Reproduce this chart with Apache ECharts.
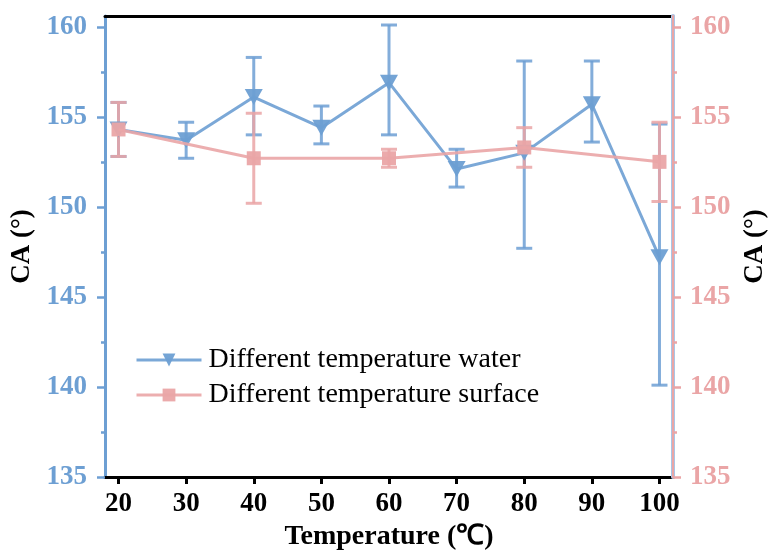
<!DOCTYPE html>
<html>
<head>
<meta charset="utf-8">
<script src="https://cdn.jsdelivr.net/npm/echarts@6/dist/echarts.min.js"></script>
<style>
  html, body { margin: 0; padding: 0; background: #fff; }
  #chart { width: 769px; height: 552px; }
</style>
</head>
<body>
<div id="chart"></div>
<script>
// data
const temps = [20, 30, 40, 50, 60, 70, 80, 90, 100];
const waterCA = [154.3, 153.7, 156.1, 154.4, 156.9, 152.1, 153.0, 155.7, 147.2];
const waterLow = [152.8, 152.7, 154.0, 153.5, 154.0, 151.1, 147.7, 153.6, 140.1];
const waterHigh = [155.8, 154.7, 158.3, 155.6, 160.1, 153.2, 158.1, 158.1, 154.6];

const surfTemps = [20, 40, 60, 80, 100];
const surfCA = [154.3, 152.7, 152.7, 153.3, 152.5];
const surfLow = [152.8, 150.2, 152.2, 152.2, 150.3];
const surfHigh = [155.8, 155.2, 153.2, 154.4, 154.7];

const xTicks = [20, 30, 40, 50, 60, 70, 80, 90, 100];
const yTicks = [135, 140, 145, 150, 155, 160];
const yMinorTicks = [137.5, 142.5, 147.5, 152.5, 157.5];

const BLUE = "#6d9fd3";
const PINK = "#eaa5a6";
const FONT = "Liberation Serif";

const chart = echarts.init(document.getElementById("chart"));

function errorBar(color) {
  return function (params, api) {
    const x = api.value(0);
    const top = api.coord([x, api.value(2)]);
    const bot = api.coord([x, api.value(1)]);
    const half = 8;
    const style = { stroke: color, lineWidth: 3, opacity: 0.85 };
    return {
      type: "group",
      children: [
        { type: "line", shape: { x1: top[0], y1: top[1], x2: bot[0], y2: bot[1] }, style },
        { type: "line", shape: { x1: top[0] - half, y1: top[1], x2: top[0] + half, y2: top[1] }, style },
        { type: "line", shape: { x1: bot[0] - half, y1: bot[1], x2: bot[0] + half, y2: bot[1] }, style },
      ],
    };
  };
}

function yAxisBase(pos, color, minor) {
  return {
    type: "value",
    position: pos,
    min: 135,
    max: 160.6,
    axisLine: { show: !minor, lineStyle: { color: color, width: 3 } },
    axisTick: {
      show: true,
      inside: false,
      length: minor ? 4 : 8,
      lineStyle: { color: color, width: 2.5 },
      customValues: minor ? yMinorTicks : yTicks,
    },
    axisLabel: {
      show: !minor,
      customValues: yTicks,
      color: color,
      fontFamily: FONT,
      fontWeight: "bold",
      fontSize: 27,
      margin: pos === "left" ? 18 : 17,
    },
    splitLine: { show: false },
  };
}

const nameStyle = { color: "#000", fontFamily: FONT, fontWeight: "bold", fontSize: 27 };

const yLeft = Object.assign(yAxisBase("left", BLUE, false), {
  name: "CA (°)",
  nameLocation: "middle",
  nameGap: 67,
  nameTextStyle: nameStyle,
});
const yRight = Object.assign(yAxisBase("right", PINK, false), {
  name: "CA (°)",
  nameLocation: "middle",
  nameGap: 66,
  nameTextStyle: nameStyle,
  z: 2,
});
yRight.axisLine.lineStyle.width = 2;

const yRightMinor = yAxisBase("right", PINK, true);
yRightMinor.axisLine = { show: true, lineStyle: { color: "#a9c6e6", width: 4 } };
yRightMinor.z = 1;

const option = {
  animation: false,
  grid: { left: 105, right: 96, top: 16, bottom: 75, outerBoundsMode: "none" },
  legend: {
    orient: "vertical",
    left: 130,
    top: 341,
    padding: 5,
    itemWidth: 65,
    itemHeight: 16,
    itemGap: 7,
    data: ["Different temperature water", "Different temperature surface"],
    lineStyle: { width: 3 },
    textStyle: { color: "#000", fontFamily: FONT, fontSize: 28, padding: [0, 0, 0, 2] },
  },
  xAxis: [
    {
      type: "value",
      min: 18,
      max: 102,
      name: "Temperature (℃)",
      nameLocation: "middle",
      nameGap: 45,
      nameTextStyle: { color: "#000", fontFamily: FONT, fontWeight: "bold", fontSize: 28 },
      axisLine: { lineStyle: { color: "#000", width: 3 } },
      axisTick: { inside: false, length: 7, lineStyle: { color: "#000", width: 3 }, customValues: xTicks },
      axisLabel: {
        customValues: xTicks,
        color: "#000",
        fontFamily: FONT,
        fontWeight: "bold",
        fontSize: 27,
        margin: 14,
      },
      splitLine: { show: false },
    },
    {
      type: "value",
      position: "top",
      min: 18,
      max: 102,
      axisLine: { show: true, lineStyle: { color: "#000", width: 3 } },
      axisTick: { show: false },
      axisLabel: { show: false },
      splitLine: { show: false },
    },
  ],
  yAxis: [
    yLeft,
    yRight,
    yAxisBase("left", BLUE, true),
    yRightMinor,
  ],
  series: [
    {
      name: "Different temperature water",
      type: "line",
      data: temps.map((t, i) => [t, waterCA[i]]),
      symbol: "triangle",
      symbolRotate: 180,
      symbolSize: [18, 16],
      z: 3,
      lineStyle: { color: BLUE, width: 3, opacity: 0.9 },
      itemStyle: { color: BLUE, opacity: 0.95 },
    },
    {
      name: "Different temperature surface",
      type: "line",
      data: surfTemps.map((t, i) => [t, surfCA[i]]),
      symbol: "rect",
      symbolSize: 14,
      z: 4,
      lineStyle: { color: PINK, width: 3, opacity: 0.9 },
      itemStyle: { color: PINK, opacity: 0.95 },
    },
    {
      name: "water error",
      type: "custom",
      renderItem: errorBar(BLUE),
      data: temps.map((t, i) => [t, waterLow[i], waterHigh[i]]),
      encode: { x: 0, y: [1, 2] },
      z: 2,
    },
    {
      name: "surface error",
      type: "custom",
      renderItem: errorBar(PINK),
      data: surfTemps.map((t, i) => [t, surfLow[i], surfHigh[i]]),
      encode: { x: 0, y: [1, 2] },
      z: 3,
    },
  ],
};

chart.setOption(option);
</script>
</body>
</html>
